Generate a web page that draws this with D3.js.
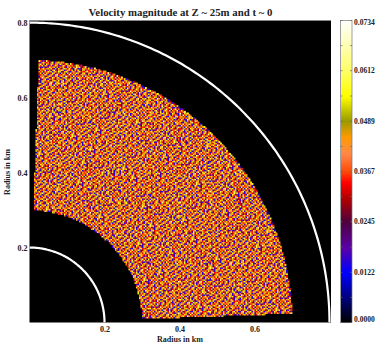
<!DOCTYPE html>
<html>
<head>
<meta charset="utf-8">
<script src="https://cdnjs.cloudflare.com/ajax/libs/d3/7.8.5/d3.min.js"></script>
<style>
html, body { margin: 0; padding: 0; background: #fff; }
svg { display: block; }
text { font-family: "Liberation Serif", serif; font-weight: bold; fill: #222; }
</style>
</head>
<body>
<svg width="382" height="345"></svg>
<script>
var titleText = "Velocity magnitude at Z ~ 25m and t ~ 0";
var axisLabel = "Radius in km";
var xTicks = [0.2, 0.4, 0.6];
var yTicks = [0.2, 0.4, 0.6, 0.8];
var whiteCircles = [0.2, 0.8];  // km
var sectorRadius = [0.3, 0.7];  // km
var sectorAngle = [2, 88];      // degrees

var barTicks = [0.0000, 0.0122, 0.0245, 0.0367, 0.0489, 0.0612, 0.0734];
var barMinorTicks = [0.0061, 0.01835, 0.0306, 0.0428, 0.05505, 0.0673];

// colour table
var colorValues = [0, 0.0122, 0.0180, 0.0245, 0.0300, 0.0340, 0.0367, 0.0410, 0.0450, 0.0489, 0.0550, 0.0612, 0.0734];
var colorStops = ["#000000", "#0000ff", "#5a00a8", "#50003c", "#b00000", "#ff0000", "#ff4a08", "#ff8a48", "#ff9a00", "#9a9a00", "#ffff00", "#ffff66", "#ffffff"];

// velocity sample hand read from a patch of the field (unit 0.001), tiled over the sector
var fieldSample = [
  [44, 36, 54, 43, 17, 33, 58, 41, 30, 45, 53, 35, 44, 14, 37, 55, 42, 17, 34, 66],
  [53, 16, 30, 45, 55, 38, 18, 35, 54, 43, 15, 57, 33, 52, 31, 43, 53, 14, 44, 39],
  [34, 60, 43, 14, 36, 52, 44, 17, 42, 66, 33, 18, 53, 44, 56, 16, 45, 35, 33, 46],
  [45, 32, 54, 37, 16, 33, 56, 43, 13, 36, 46, 55, 34, 15, 17, 44, 62, 31, 54, 18],
  [17, 44, 35, 59, 43, 52, 15, 45, 53, 33, 58, 16, 42, 31, 53, 36, 14, 44, 35, 52],
  [36, 55, 16, 31, 45, 14, 44, 62, 34, 17, 42, 13, 35, 57, 44, 33, 54, 17, 45, 36],
  [57, 33, 44, 53, 36, 56, 30, 16, 45, 18, 54, 38, 15, 43, 61, 34, 14, 55, 31, 44],
  [38, 17, 18, 34, 66, 36, 45, 53, 31, 44, 16, 52, 44, 13, 35, 46, 56, 36, 17, 15],
  [30, 52, 43, 14, 33, 44, 17, 36, 57, 37, 33, 64, 34, 54, 42, 30, 16, 52, 35, 55],
  [44, 14, 56, 36, 17, 53, 45, 32, 44, 52, 17, 43, 35, 16, 55, 38, 15, 44, 60, 33],
  [54, 36, 34, 45, 18, 38, 58, 15, 36, 44, 54, 32, 13, 41, 33, 53, 44, 34, 17, 45],
  [35, 16, 61, 32, 52, 43, 33, 14, 53, 36, 45, 57, 17, 44, 52, 16, 31, 58, 37, 18],
  [45, 32, 42, 55, 15, 30, 44, 54, 43, 34, 17, 38, 52, 33, 44, 14, 55, 42, 45, 34],
  [16, 53, 44, 35, 45, 57, 36, 17, 66, 45, 30, 44, 14, 59, 32, 43, 36, 52, 33, 56],
  [43, 37, 18, 52, 36, 33, 54, 45, 31, 16, 55, 34, 45, 35, 53, 15, 36, 17, 44, 42],
  [56, 34, 14, 42, 13, 44, 35, 52, 17, 45, 36, 64, 32, 43, 38, 56, 44, 15, 30, 52],
  [33, 45, 58, 36, 53, 16, 30, 44, 55, 38, 17, 15, 43, 52, 36, 18, 42, 60, 34, 36],
  [42, 17, 38, 33, 45, 60, 42, 14, 35, 54, 44, 34, 53, 16, 46, 33, 54, 35, 14, 53],
  [52, 44, 34, 55, 32, 16, 45, 54, 43, 31, 58, 36, 16, 17, 56, 44, 13, 32, 15, 43],
  [38, 56, 15, 17, 44, 36, 52, 33, 14, 42, 36, 52, 30, 45, 35, 62, 45, 55, 17, 30]
];
// offsets between repeats of the sample
var tileShift = [0, 7, 13, 4, 17, 9, 2, 15, 11, 6, 19, 3];

var cellStep = 0.004; // km

var svg = d3.select("svg");

var x = d3.scaleLinear().domain([0, 0.804]).range([29.5, 331]);
var y = d3.scaleLinear().domain([0, 0.8056]).range([322.5, 20.5]);
var color = d3.scaleLinear().domain(colorValues).range(colorStops).clamp(true);
var barY = d3.scaleLinear().domain([0, 0.0734]).range([322.5, 20.5]);

// black plot area
svg.append("rect")
    .attr("x", x.range()[0])
    .attr("y", y.range()[1])
    .attr("width", x.range()[1] - x.range()[0])
    .attr("height", y.range()[0] - y.range()[1])
    .attr("fill", "#000");

svg.append("line")
    .attr("x1", x.range()[0]).attr("x2", x.range()[1])
    .attr("y1", y.range()[1]).attr("y2", y.range()[1])
    .attr("stroke", "#888");

// build cells of the sector
var cells = [];
var nCells = Math.round(sectorRadius[1] / cellStep);
for (var i = 0; i <= nCells; i++) {
    for (var j = 0; j <= nCells; j++) {
        var cx = (i + 0.5) * cellStep, cy = (j + 0.5) * cellStep;
        var r = Math.sqrt(cx * cx + cy * cy);
        var a = Math.atan2(cy, cx) * 180 / Math.PI;
        if (r < sectorRadius[0] || r > sectorRadius[1] || a < sectorAngle[0] || a > sectorAngle[1]) continue;
        // shift each repeat of the tile so no grid shows
        var ti = Math.floor(i / 20), tj = Math.floor(j / 20);
        var row = (j + tileShift[(ti + 5 * tj) % 12]) % 20;
        var col = (i + tileShift[(tj + 7 * ti) % 12]) % 20;
        cells.push({x: i * cellStep, y: (j + 1) * cellStep, v: fieldSample[row][col] / 1000});
    }
}

svg.append("g")
    .attr("class", "cells")
    .selectAll("rect")
    .data(cells)
    .enter().append("rect")
    .attr("x", function(d) { return x(d.x); })
    .attr("y", function(d) { return y(d.y); })
    .attr("width", x(cellStep) - x(0) + 0.4)
    .attr("height", y(0) - y(cellStep) + 0.4)
    .attr("fill", function(d) { return color(d.v); });

// white circles
svg.append("clipPath").attr("id", "plot-clip").append("rect")
    .attr("x", x.range()[0])
    .attr("y", y.range()[1])
    .attr("width", x.range()[1] - x.range()[0])
    .attr("height", y.range()[0] - y.range()[1]);

svg.append("g")
    .attr("clip-path", "url(#plot-clip)")
    .selectAll("path")
    .data(whiteCircles)
    .enter().append("path")
    .attr("fill", "none")
    .attr("stroke", "#fff")
    .attr("stroke-width", 2.2)
    .attr("d", function(d) {
        return d3.line()
            .x(function(t) { return x(d * Math.cos(t)); })
            .y(function(t) { return y(d * Math.sin(t)); })
            .curve(d3.curveBasis)(d3.range(0, 91).map(function(t) { return t * Math.PI / 180; }));
    });

// axes
var xAxis = svg.append("g")
    .attr("transform", "translate(0," + y.range()[0] + ")")
    .call(d3.axisBottom(x).tickValues(xTicks).tickSize(0).tickPadding(4).tickFormat(d3.format(".1f")));
var yAxis = svg.append("g")
    .attr("transform", "translate(" + x.range()[0] + ",0)")
    .call(d3.axisLeft(y).tickValues(yTicks).tickSize(0).tickPadding(2).tickFormat(d3.format(".1f")));
xAxis.select(".domain").remove();
yAxis.select(".domain").remove();
svg.selectAll(".tick text").style("font-size", "8px").style("font-family", null).attr("fill", "#222");

svg.append("text")
    .attr("x", 180)
    .attr("y", 342)
    .attr("text-anchor", "middle")
    .style("font-size", "8px")
    .text(axisLabel);

svg.append("text")
    .attr("transform", "translate(10,172) rotate(-90)")
    .attr("text-anchor", "middle")
    .style("font-size", "8px")
    .text(axisLabel);

svg.append("text")
    .attr("x", 180.5)
    .attr("y", 16)
    .attr("text-anchor", "middle")
    .style("font-size", "10.8px")
    .text(titleText);

// colour bar
var barX = 340.5, barW = 11.5;
var barSteps = d3.range(0, 0.0734, 0.0734 / 302);
svg.append("g")
    .attr("shape-rendering", "crispEdges")
    .selectAll("rect")
    .data(barSteps)
    .enter().append("rect")
    .attr("x", barX)
    .attr("width", barW)
    .attr("y", function(d) { return barY(d) - 1; })
    .attr("height", 1.5)
    .attr("fill", function(d) { return color(d); });

svg.append("rect")
    .attr("x", barX).attr("y", barY.range()[1])
    .attr("width", barW).attr("height", barY.range()[0] - barY.range()[1])
    .attr("fill", "none").attr("stroke", "#777").attr("stroke-width", 0.7);

var barTickLines = barTicks.concat(barMinorTicks);
svg.append("g").selectAll("path")
    .data(barTickLines)
    .enter().append("path")
    .attr("stroke", "#666")
    .attr("stroke-width", 0.7)
    .attr("d", function(d) {
        var p = barY(d);
        return "M" + barX + "," + p + "h2M" + (barX + barW) + "," + p + "h-2";
    });

svg.append("g").selectAll("text")
    .data(barTicks)
    .enter().append("text")
    .attr("x", barX + barW + 2)
    .attr("y", function(d) { return Math.min(Math.max(barY(d), 23), 320); })
    .attr("dy", "0.32em")
    .style("font-size", "7.5px")
    .text(function(d) { return d.toFixed(4); });
</script>
</body>
</html>
